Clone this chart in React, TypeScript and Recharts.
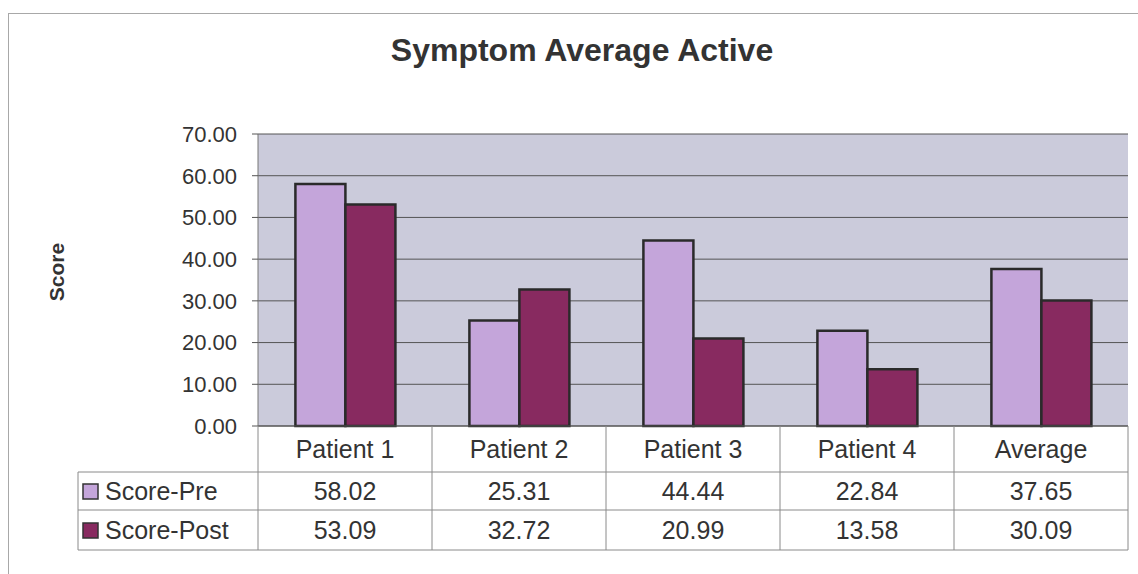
import { BarChart, Bar, XAxis, YAxis, CartesianGrid } from 'recharts'

const categories = ['Patient 1', 'Patient 2', 'Patient 3', 'Patient 4', 'Average']
const scorePre = [58.02, 25.31, 44.44, 22.84, 37.65]
const scorePost = [53.09, 32.72, 20.99, 13.58, 30.09]
const yTicks = [0, 10, 20, 30, 40, 50, 60, 70]

const data = categories.map((name, i) => ({ name, pre: scorePre[i], post: scorePost[i] }))

const W = 1138
const H = 574
const PLOT_LEFT = 258
const PLOT_RIGHT = 1128
const BAND = (PLOT_RIGHT - PLOT_LEFT) / categories.length
const LEGEND_LEFT = 78

const PRE_FILL = '#c4a5da'
const POST_FILL = '#882a60'
const INK = '#333'
const TABLE_LINE = '#8a8a8a'
const FONT = 'Arial, "Liberation Sans", sans-serif'
const TABLE_FONT = 25

const series = [
  { label: 'Score-Pre', fill: PRE_FILL, values: scorePre },
  { label: 'Score-Post', fill: POST_FILL, values: scorePost },
]

// row layout of the data table, relative to the category axis line
const HEADER_H = 46
const ROW_BOUNDS = [46, 84, 124]

function TableTick(props: any) {
  const { x, y, payload } = props
  const i = payload.index
  const left = x - BAND / 2
  const right = x + BAND / 2
  const bottom = y + ROW_BOUNDS[2]
  return (
    <g>
      <line x1={left} y1={y} x2={left} y2={bottom} stroke={TABLE_LINE} />
      {i === categories.length - 1 && (
        <line x1={right} y1={y} x2={right} y2={bottom} stroke={TABLE_LINE} />
      )}
      {ROW_BOUNDS.map(r => (
        <line key={r} x1={left} y1={y + r} x2={right} y2={y + r} stroke={TABLE_LINE} />
      ))}
      <text x={x} y={y + HEADER_H / 2 + 9} textAnchor="middle" fontSize={TABLE_FONT} fill={INK} fontFamily={FONT}>
        {payload.value}
      </text>
      {series.map((s, k) => (
        <text
          key={s.label}
          x={x}
          y={y + (ROW_BOUNDS[k] + ROW_BOUNDS[k + 1]) / 2 + 9}
          textAnchor="middle"
          fontSize={TABLE_FONT}
          fill={INK}
          fontFamily={FONT}
        >
          {s.values[i].toFixed(2)}
        </text>
      ))}
      {i === 0 && (
        <g>
          <line x1={LEGEND_LEFT} y1={y + ROW_BOUNDS[0]} x2={LEGEND_LEFT} y2={bottom} stroke={TABLE_LINE} />
          {ROW_BOUNDS.map(r => (
            <line key={r} x1={LEGEND_LEFT} y1={y + r} x2={left} y2={y + r} stroke={TABLE_LINE} />
          ))}
          {series.map((s, k) => {
            const cy = y + (ROW_BOUNDS[k] + ROW_BOUNDS[k + 1]) / 2
            return (
              <g key={s.label}>
                <rect x={LEGEND_LEFT + 5} y={cy - 7} width={15} height={15} fill={s.fill} stroke={INK} strokeWidth={1.5} />
                <text x={LEGEND_LEFT + 27} y={cy + 9} fontSize={TABLE_FONT} fill={INK} fontFamily={FONT}>
                  {s.label}
                </text>
              </g>
            )
          })}
        </g>
      )}
    </g>
  )
}

export default function App() {
  return (
    <div style={{ position: 'absolute', left: 0, top: 0, width: W, height: H, background: '#fff' }}>
      <div
        style={{
          position: 'absolute', left: 8, top: 13, width: W - 8, height: H - 13,
          borderTop: '1px solid #a8a8a8', borderLeft: '1px solid #a8a8a8',
        }}
      />
      <div
        style={{
          position: 'absolute', left: 0, top: 32, width: 1164, textAlign: 'center',
          fontFamily: FONT, fontWeight: 'bold', fontSize: 32, color: INK,
        }}
      >
        Symptom Average Active
      </div>
      <div
        style={{
          position: 'absolute', left: 57, top: 272, transform: 'translate(-50%, -50%) rotate(-90deg)',
          fontFamily: FONT, fontWeight: 'bold', fontSize: 21, color: INK,
        }}
      >
        Score
      </div>
      <div style={{ position: 'absolute', left: 0, top: 0 }}>
        <BarChart
          width={W}
          height={H}
          data={data}
          margin={{ top: 134, right: W - PLOT_RIGHT, bottom: 0, left: 0 }}
          barCategoryGap="21.5%"
          barGap={0}
        >
          <CartesianGrid vertical={false} fill="#cbcbdb" stroke="#555" strokeWidth={1} />
          <XAxis
            dataKey="name"
            height={148}
            tickLine={false}
            tickSize={0}
            tickMargin={0}
            axisLine={{ stroke: '#555' }}
            tick={<TableTick />}
            interval={0}
          />
          <YAxis
            width={PLOT_LEFT}
            domain={[0, 70]}
            ticks={yTicks}
            tickFormatter={(v: number) => v.toFixed(2)}
            tick={{ fontSize: 22, fill: INK, fontFamily: FONT }}
            tickSize={6}
            tickMargin={15}
            axisLine={{ stroke: '#777' }}
            tickLine={{ stroke: '#555' }}
          />
          <YAxis
            yAxisId="frame"
            orientation="right"
            width={0}
            domain={[0, 70]}
            tick={false}
            tickLine={false}
            axisLine={{ stroke: '#777' }}
          />
          <Bar dataKey="pre" name="Score-Pre" fill={PRE_FILL} stroke="#2a2a2a" strokeWidth={2.5} isAnimationActive={false} />
          <Bar dataKey="post" name="Score-Post" fill={POST_FILL} stroke="#2a2a2a" strokeWidth={2.5} isAnimationActive={false} />
        </BarChart>
      </div>
    </div>
  )
}
